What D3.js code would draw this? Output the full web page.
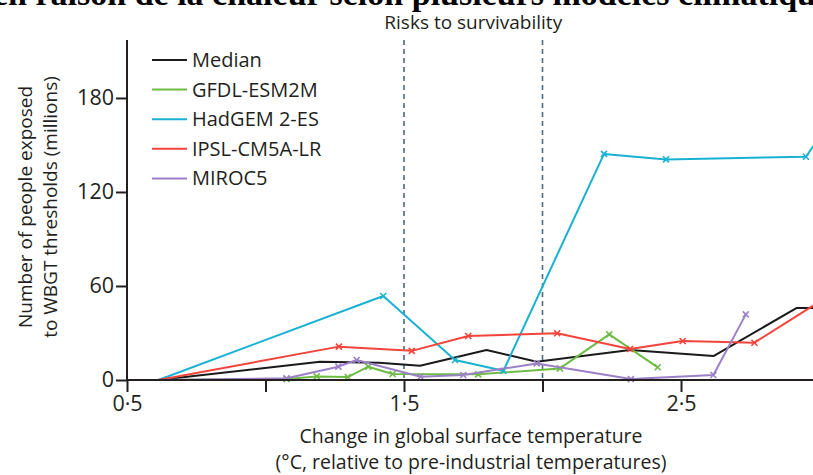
<!DOCTYPE html>
<html><head><meta charset="utf-8">
<script src="https://cdn.jsdelivr.net/npm/d3@7"></script>
<style>body{margin:0;background:#fff;overflow:hidden}svg{display:block}</style>
</head><body><svg id="c" width="813" height="475"></svg>
<script>
const seriesNames = ["Median","GFDL-ESM2M","HadGEM 2-ES","IPSL-CM5A-LR","MIROC5"];
const seriesColors = ["#1a1a1a","#6dbb45","#19b1d2","#f2443a","#9b80c6"];
const medianData = [[0.613,0],[1.197,11.7],[1.41,11],[1.558,9.1],[1.798,19.1],[1.979,11.7],[2.316,19.1],[2.617,15.3],[2.918,46],[3.0,46]];
const gfdlData = [[0.613,0],[1.076,0.6],[1.185,2.3],[1.297,1.9],[1.371,8.5],[1.459,3.8],[1.768,3.6],[2.063,7.4],[2.241,29.1],[2.416,8.1]];
const hadgemData = [[0.613,0],[1.425,53.6],[1.684,12.8],[1.859,5.9],[2.222,144.3],[2.446,140.8],[2.951,142.5],[3.0,155]];
const ipslData = [[0.613,0],[1.265,21.3],[1.528,18.6],[1.732,28.1],[2.053,29.8],[2.316,19.8],[2.506,24.9],[2.765,23.8],[3.0,50]];
const mirocData = [[0.613,0],[1.076,1.1],[1.263,8.5],[1.329,12.8],[1.56,2.1],[1.714,3.2],[1.979,10.6],[2.319,0.6],[2.617,3.2],[2.734,41.9]];
const xTicks = [0.5,1,1.5,2,2.5,3];
const xTickLabels = ["0·5","","1·5","","2·5",""];
const yTicks = [0,60,120,180];
const thresholds = [1.5,2.0];
const titleText = "en raison de la chaleur selon plusieurs modèles climatiques";
const annotation = "Risks to survivability";
const xTitle = ["Change in global surface temperature","(°C, relative to pre-industrial temperatures)"];
const yTitle = ["Number of people exposed","to WBGT thresholds (millions)"];

const allData = [medianData,gfdlData,hadgemData,ipslData,mirocData];
const svg = d3.select("#c");
const x = d3.scaleLinear().domain([0.5,3.0]).range([127,819.5]);
const y = d3.scaleLinear().domain([0,217]).range([380,40]);
const font = "'Open Sans', sans-serif";
const ink = "#231f20";

// clipped heading
svg.append("text").attr("x",-7).attr("y",5).attr("font-family","'Liberation Serif', serif")
  .attr("font-weight","bold").attr("font-size",34).attr("fill","#000").text(titleText);

// threshold dashed lines
svg.selectAll(".thr").data(thresholds).enter().append("line")
  .attr("x1",d=>x(d)).attr("x2",d=>x(d)).attr("y1",y.range()[1]).attr("y2",y(0))
  .attr("stroke","#4d6b7a").attr("stroke-width",1.6).attr("stroke-dasharray","5,4");

svg.append("text").attr("x",(x(1.5)+x(2.0))/2).attr("y",29).attr("text-anchor","middle")
  .attr("font-family",font).attr("font-size",19).attr("fill",ink).text(annotation);

// lines
const line = d3.line().x(d=>x(d[0])).y(d=>y(d[1]));
allData.forEach((data,i)=>{
  svg.append("path").datum(data).attr("d",line).attr("fill","none")
    .attr("stroke",seriesColors[i]).attr("stroke-width",2).attr("stroke-linejoin","round");
  if(i>0){
    const g = svg.append("g");
    g.selectAll("path").data(data.slice(1)).enter().append("path")
      .attr("d",d=>{const cx=x(d[0]),cy=y(d[1]),s=3;return `M${cx-s},${cy-s}L${cx+s},${cy+s}M${cx-s},${cy+s}L${cx+s},${cy-s}`;})
      .attr("stroke",seriesColors[i]).attr("stroke-width",1.6);
  }
});

// axes
const yAxis = svg.append("g").attr("transform",`translate(${x(0.5)},0)`)
  .call(d3.axisLeft(y).tickValues(yTicks).tickSize(11).tickPadding(2).tickFormat(d3.format("d")));
const xAxis = svg.append("g").attr("transform",`translate(0,${y(0)})`)
  .call(d3.axisBottom(x).tickValues(xTicks).tickSize(12).tickPadding(4).tickFormat((d,i)=>xTickLabels[i]));
[yAxis,xAxis].forEach(a=>{
  a.select(".domain").attr("stroke",ink).attr("stroke-width",2);
  a.selectAll(".tick line").attr("stroke",ink).attr("stroke-width",2);
  a.selectAll(".tick text").attr("font-family",font).attr("font-size",21.5).attr("fill",ink);
});
yAxis.select(".domain").attr("d",`M0,${y.range()[1]}V${y(0)}`);
xAxis.select(".domain").attr("d",`M${x(0.5)},0H${x(3.0)}`);

// legend
seriesNames.forEach((n,i)=>{
  const ly = 60 + i*29.6;
  svg.append("line").attr("x1",152).attr("x2",187).attr("y1",ly).attr("y2",ly)
    .attr("stroke",seriesColors[i]).attr("stroke-width",2);
  svg.append("text").attr("x",192).attr("y",ly+7).attr("font-family",font).attr("font-size",20)
    .attr("fill",ink).text(n);
});

// axis titles
xTitle.forEach((t,i)=>{
  svg.append("text").attr("x",471).attr("y",443+i*26).attr("text-anchor","middle")
    .attr("font-family",font).attr("font-size",19.5).attr("fill",ink).text(t);
});
yTitle.forEach((t,i)=>{
  svg.append("text").attr("transform",`translate(${32+i*25},207) rotate(-90)`).attr("text-anchor","middle")
    .attr("font-family",font).attr("font-size",19).attr("fill",ink).text(t);
});
</script></body></html>
